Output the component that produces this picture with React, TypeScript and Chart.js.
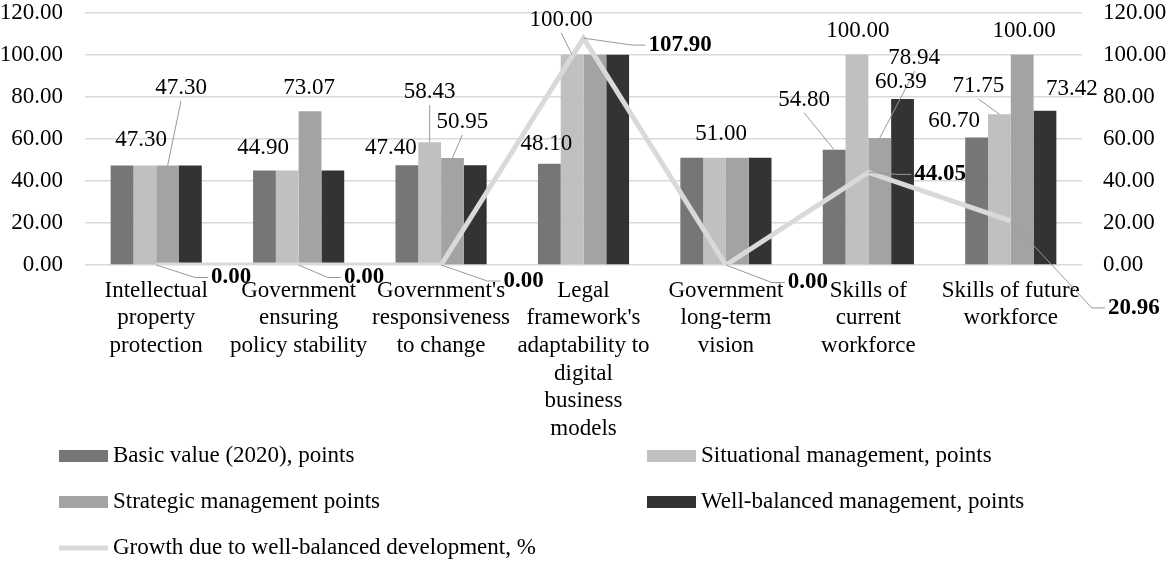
import { useEffect, useRef } from "react"
import { Chart, registerables } from "chart.js"
import type { Plugin } from "chart.js"

Chart.register(...registerables)

const categories = [
  ["Intellectual", "property", "protection"],
  ["Government", "ensuring", "policy stability"],
  ["Government's", "responsiveness", "to change"],
  ["Legal", "framework's", "adaptability to", "digital", "business", "models"],
  ["Government", "long-term", "vision"],
  ["Skills of", "current", "workforce"],
  ["Skills of future", "workforce"],
]

const basicValues = [47.3, 44.9, 47.4, 48.1, 51.0, 54.8, 60.7]
const situationalValues = [47.3, 44.9, 58.43, 100.0, 51.0, 100.0, 71.75]
const strategicValues = [47.3, 73.07, 50.95, 100.0, 51.0, 60.39, 100.0]
const wellBalancedValues = [47.3, 44.9, 47.4, 100.0, 51.0, 78.94, 73.42]
const growthValues = [0, 0, 0, 107.9, 0, 44.05, 20.96]

const tickValues = [0, 20, 40, 60, 80, 100, 120]

const seriesNames = [
  "Basic value (2020), points",
  "Situational management, points",
  "Strategic management points",
  "Well-balanced management, points",
  "Growth due to well-balanced development, %",
]

const colors = ["#767676", "#c0c0c0", "#a3a3a3", "#333333", "#d9d9d9"]

const FONT = '"Liberation Serif", "Times New Roman", serif'

// label placement relative to the bar top / line point: [dx, dy, leader, leaderEndDx?, leaderEndDy?]
type LabelSpec = [number, number, "" | "v" | "h", number?, number?] | null
const labelSpecs: LabelSpec[][] = [
  [[19, -26, ""], [-1.4, -22.6, ""], [-16, -17, ""], [-3, -20, ""], null, [-30, -50, "v"], [-22.5, -16.5, ""]],
  [null, null, [0, -50, "v"], [-11, -35, "v"], [6.5, -24, ""], [1, -24, ""], [-21, -28, "v"]],
  [[13.4, -77.6, "v"], [-1, -23.4, ""], [10, -36, "v"], null, null, [21, -56, "v", 35, -67], [2, -24, ""]],
  [null, null, null, null, null, [11.5, -41, ""], [27, -21.5, ""]],
  [[75, 12.5, "h"], [65.4, 12.5, "h"], [82.5, 16, "h"], [96.5, 7, "h"], [82, 17.5, "h"], [71.7, 2, "h"], [123, 87, "h"]],
]

const labelPlugin: Plugin<"bar"> = {
  id: "valueLabels",
  afterDatasetsDraw(chart) {
    const ctx = chart.ctx
    ctx.save()
    ctx.textAlign = "center"
    ctx.textBaseline = "middle"
    chart.data.datasets.forEach((ds, di) => {
      const meta = chart.getDatasetMeta(di)
      const bold = (ds as { type?: string }).type === "line"
      ctx.font = `${bold ? "bold " : ""}23px ${FONT}`
      meta.data.forEach((el, i) => {
        const spec = labelSpecs[di][i]
        if (!spec) return
        const [dx, dy, leader, ex, ey] = spec
        const text = (ds.data[i] as number).toFixed(2)
        const { x, y } = el.getProps(["x", "y"], true) as { x: number; y: number }
        const cx = x + dx
        const cy = y + dy
        const w = ctx.measureText(text).width
        if (leader) {
          ctx.strokeStyle = "#999999"
          ctx.lineWidth = 1
          ctx.beginPath()
          ctx.moveTo(x, y)
          if (leader === "v") {
            if (ex !== undefined && ey !== undefined) ctx.lineTo(x + ex, y + ey)
            else ctx.lineTo(cx, cy + 13)
          } else {
            const left = cx - w / 2
            ctx.lineTo(left - 16, cy)
            ctx.lineTo(left - 3, cy)
          }
          ctx.stroke()
        }
        ctx.fillStyle = "#000"
        ctx.fillText(text, cx, cy)
      })
    })
    ctx.restore()
  },
}

const legendPlugin: Plugin<"bar"> = {
  id: "boxLegend",
  afterDraw(chart) {
    const ctx = chart.ctx
    const slots = [
      [59, 456],
      [647, 456],
      [59, 502],
      [647, 502],
      [59, 548],
    ]
    ctx.save()
    ctx.font = `23px ${FONT}`
    ctx.textAlign = "left"
    ctx.textBaseline = "middle"
    seriesNames.forEach((name, i) => {
      const [x, y] = slots[i]
      if (i === 4) {
        ctx.strokeStyle = colors[i]
        ctx.lineWidth = 5
        ctx.beginPath()
        ctx.moveTo(x, y)
        ctx.lineTo(x + 49, y)
        ctx.stroke()
      } else {
        ctx.fillStyle = colors[i]
        ctx.fillRect(x, y - 6, 49, 12)
      }
      ctx.fillStyle = "#000"
      ctx.fillText(name, x + 54, y)
    })
    ctx.restore()
  },
}

export default function App() {
  const chartRef = useRef<HTMLCanvasElement>(null)
  const chartInstance = useRef<Chart | null>(null)

  useEffect(() => {
    document.body.style.margin = "0"
    if (!chartRef.current) return
    if (chartInstance.current) chartInstance.current.destroy()

    const tickFont = { family: FONT, size: 23, lineHeight: 1 }
    const setTicks = (s: any) => {
      s.ticks = tickValues.map((v) => ({ value: v }))
    }
    // keep the tick padding from pushing the plot area down
    const fitY = (width: number) => (s: any) => {
      s.width = width
      s.paddingTop = 12
      s.paddingBottom = 12
    }

    chartInstance.current = new Chart(chartRef.current, {
      type: "bar",
      data: {
        labels: categories,
        datasets: [
          { label: seriesNames[0], data: basicValues, backgroundColor: colors[0], yAxisID: "y", order: 1 },
          { label: seriesNames[1], data: situationalValues, backgroundColor: colors[1], yAxisID: "y", order: 1 },
          { label: seriesNames[2], data: strategicValues, backgroundColor: colors[2], yAxisID: "y", order: 1 },
          { label: seriesNames[3], data: wellBalancedValues, backgroundColor: colors[3], yAxisID: "y", order: 1 },
          {
            type: "line" as const,
            label: seriesNames[4],
            data: growthValues,
            borderColor: colors[4],
            borderWidth: 5,
            pointRadius: 0,
            tension: 0,
            yAxisID: "y1",
            order: 0,
          } as any,
        ],
      },
      options: {
        responsive: false,
        animation: false,
        layout: { padding: { top: 12.7 } },
        datasets: { bar: { categoryPercentage: 0.64, barPercentage: 1 } },
        plugins: { legend: { display: false }, tooltip: { enabled: false } },
        scales: {
          x: {
            grid: { display: false, drawTicks: false },
            border: { display: false },
            ticks: {
              color: "#000",
              font: { family: FONT, size: 23, lineHeight: 1.2 },
              padding: 12,
              maxRotation: 0,
              minRotation: 0,
              autoSkip: false,
            },
            afterFit: (s) => {
              s.height = 298
            },
          },
          y: {
            position: "left",
            min: 0,
            max: 120,
            afterBuildTicks: setTicks,
            ticks: { color: "#000", font: tickFont, padding: 22, callback: (v) => Number(v).toFixed(2) },
            grid: { color: "#d9d9d9", lineWidth: 1.5, drawTicks: false },
            border: { display: false },
            afterFit: fitY(85),
          },
          y1: {
            position: "right",
            min: 0,
            max: 120,
            afterBuildTicks: setTicks,
            ticks: { color: "#000", font: tickFont, padding: 21, callback: (v) => Number(v).toFixed(2) },
            grid: { display: false, drawTicks: false },
            border: { display: false },
            afterFit: fitY(88),
          },
        },
      },
      plugins: [labelPlugin, legendPlugin],
    })

    return () => {
      if (chartInstance.current) {
        chartInstance.current.destroy()
        chartInstance.current = null
      }
    }
  }, [])

  return <canvas ref={chartRef} width={1170} height={563} style={{ display: "block" }} />
}
